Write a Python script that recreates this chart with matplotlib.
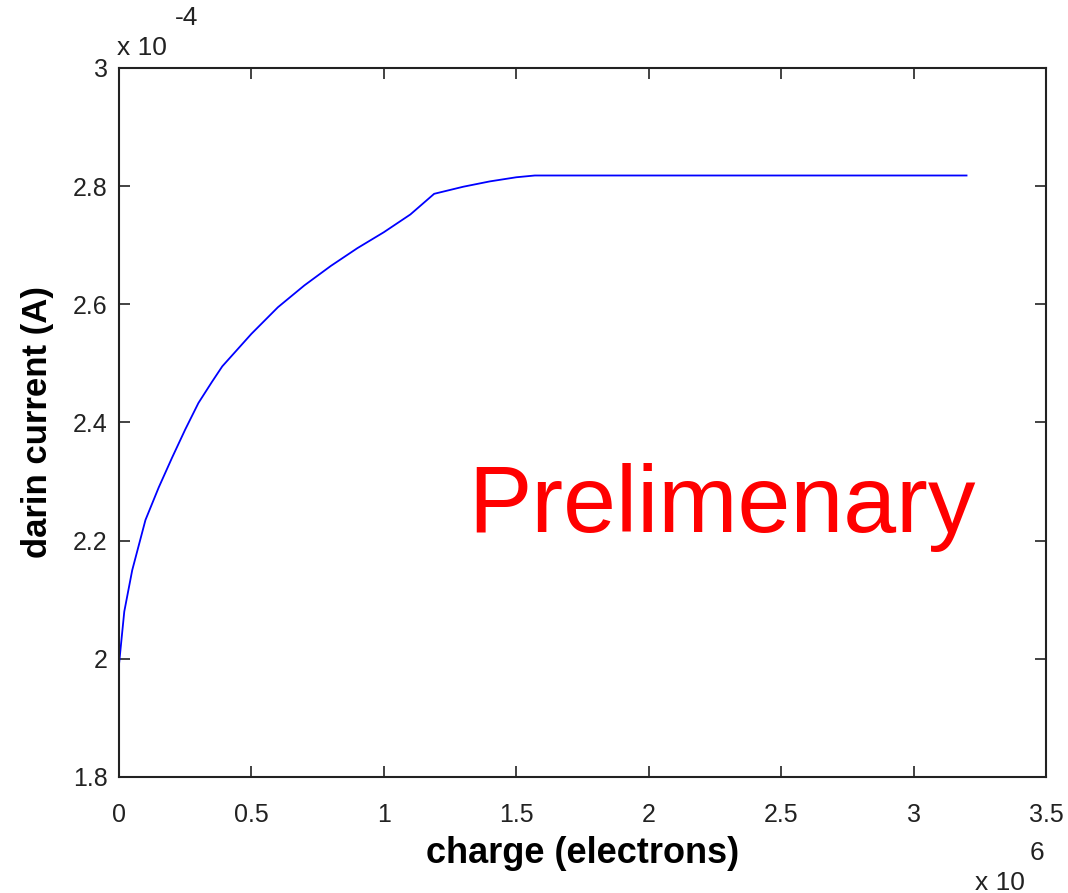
import matplotlib
matplotlib.use("Agg")
import matplotlib.pyplot as plt

# carga (x 10^6 electrones) y corriente de drenador (x 10^-4 A)
charge = [0, 0.02, 0.05, 0.1, 0.15, 0.2, 0.25, 0.3, 0.35, 0.39, 0.5, 0.6, 0.7,
          0.8, 0.9, 1.0, 1.1, 1.19, 1.3, 1.4, 1.5, 1.57, 3.2]
current = [1.99, 2.08, 2.15, 2.235, 2.29, 2.34, 2.388, 2.433, 2.468, 2.495, 2.55,
           2.595, 2.632, 2.665, 2.695, 2.722, 2.752, 2.787, 2.799, 2.808, 2.815,
           2.818, 2.818]

xticks = [0, 0.5, 1, 1.5, 2, 2.5, 3, 3.5]
xticklabels = ["0", "0.5", "1", "1.5", "2", "2.5", "3", "3.5"]
yticks = [1.8, 2, 2.2, 2.4, 2.6, 2.8, 3]
yticklabels = ["1.8", "2", "2.2", "2.4", "2.6", "2.8", "3"]

plt.rcParams['font.family'] = ['Liberation Sans', 'DejaVu Sans']

fig = plt.figure(figsize=(10.68, 8.93), dpi=100)
ax = fig.add_axes([0.1114, 0.1299, 0.868, 0.794])

ax.plot(charge, current, color="#0000ff", linewidth=1.3)

ax.set_xlim(0, 3.5)
ax.set_ylim(1.8, 3)
ax.set_xticks(xticks)
ax.set_xticklabels(xticklabels)
ax.set_yticks(yticks)
ax.set_yticklabels(yticklabels)
ax.tick_params(direction="in", length=8, width=1.2, top=True, right=True,
               labelsize=18, colors="#222222")
ax.tick_params(axis="x", pad=19)
ax.tick_params(axis="y", pad=8)
for s in ax.spines.values():
    s.set_linewidth(1.5)
    s.set_color("#222222")

ax.set_xlabel("charge (electrons)", fontsize=26, fontweight="bold", labelpad=6)
ax.set_ylabel("darin current (A)", fontsize=25, fontweight="bold", labelpad=14)

# exponentes estilo MATLAB
fig.text(117 / 1068, 1 - 55 / 893, "x 10", fontsize=19, color="#222222")
fig.text(175 / 1068, 1 - 25 / 893, "-4", fontsize=19, color="#222222")
fig.text(975 / 1068, 1 - 890 / 893, "x 10", fontsize=19, color="#222222")
fig.text(1030 / 1068, 1 - 860 / 893, "6", fontsize=19, color="#222222")

ax.text(1.32, 2.2147, "Prelimenary", color="red", fontsize=68.5)

plt.savefig("out.png", dpi=100)
